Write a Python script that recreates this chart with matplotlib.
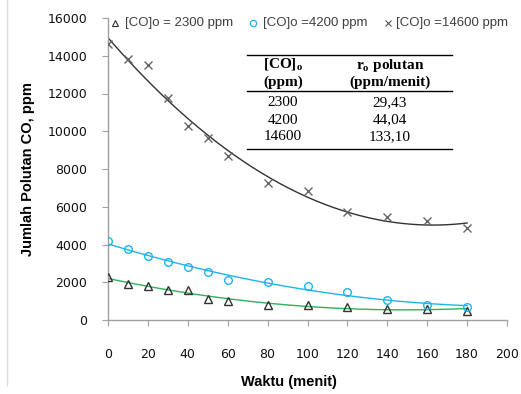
import numpy as np
import matplotlib
matplotlib.use("Agg")
import matplotlib.pyplot as plt
from matplotlib.lines import Line2D

# --- data ---
waktu = [0, 10, 20, 30, 40, 50, 60, 80, 100, 120, 140, 160, 180]
co_2300 = [2300, 1900, 1800, 1600, 1600, 1100, 1000, 800, 800, 700, 600, 600, 500]
co_4200 = [4200, 3750, 3400, 3050, 2800, 2550, 2100, 2000, 1800, 1500, 1050, 800, 700]
co_14600 = [14600, 13850, 13500, 11750, 10300, 9650, 8700, 7250, 6850, 5700, 5450, 5250, 4850]

legend_labels = ["[CO]o = 2300 ppm", "[CO]o =4200 ppm", "[CO]o =14600 ppm"]
tbl_co = ["2300", "4200", "14600"]
tbl_rate = ["29,43", "44,04", "133,10"]

BLUE = "#1FB4EC"
GREEN = "#2DB35A"
AXGRAY = "#A0A0A0"

W, H = 521.0, 394.0
fx = lambda x: x / W
fy = lambda y: 1 - y / H

fig = plt.figure(figsize=(5.21, 3.94), dpi=100)
fig.set_facecolor("white")
# plot area: x 0 -> px 108, x 200 -> px 507; y 0 -> px 320, y 16000 -> px 18
ax = fig.add_axes([fx(108), fy(320), (507 - 108) / W, (320 - 18) / H])

t = np.array(waktu, dtype=float)
tt = np.linspace(0, 180, 200)
series = [
    (co_2300, "^", GREEN, "#333333"),
    (co_4200, "o", BLUE, BLUE),
    (co_14600, "x", "#333333", "#666666"),
]
for ys, mk, lc, mc in series:
    ys = np.array(ys, dtype=float)
    coef = np.polyfit(t, ys, 2)
    ax.plot(tt, np.polyval(coef, tt), color=lc, lw=1.0, zorder=2)
    if mk == "x":
        ax.plot(t, ys, ls="none", marker="x", ms=6, mew=1.0, color=mc, zorder=3)
    else:
        ax.plot(t, ys, ls="none", marker=mk, ms=5.5, mfc="none", mec=mc,
                mew=1.0, zorder=3)

ax.set_xlim(0, 200)
ax.set_ylim(0, 16000)
ax.set_xticks(range(0, 201, 20))
ax.set_yticks(range(0, 16001, 2000))
for s in ["top", "right"]:
    ax.spines[s].set_visible(False)
for s in ["left", "bottom"]:
    ax.spines[s].set_color(AXGRAY)
    ax.spines[s].set_linewidth(1.0)
ax.tick_params(axis="both", color=AXGRAY, length=4, labelsize=9,
               direction="out", labelcolor="#111111")
ax.tick_params(axis="x", pad=16)
ax.tick_params(axis="y", pad=11)

ax.set_xlabel("Waktu (menit)", fontsize=10.5, fontweight="bold",
              family="Liberation Sans")
ax.xaxis.set_label_coords((289 - 108) / (507 - 108), -(382 - 320) / (320 - 18))
ax.set_ylabel("Jumlah Polutan CO, ppm", fontsize=10.5, fontweight="bold",
              family="Liberation Sans")
ax.yaxis.set_label_coords(-(108 - 28) / (507 - 108), 0.5)
ax.yaxis.label.set_va("center")
ax.xaxis.label.set_va("center")

# legend along the top, placed as in the reference
leg_y = fy(23)
leg_items = [
    (115, 125, dict(marker="^", ms=4.5, mfc="none", mec="#333333", mew=0.8)),
    (253, 263, dict(marker="o", ms=4.5, mfc="none", mec=BLUE, mew=0.9)),
    (388, 396, dict(marker="x", ms=5, color="#555555", mew=0.8)),
]
for (mx, tx, style), lab in zip(leg_items, legend_labels):
    fig.add_artist(Line2D([fx(mx)], [leg_y], ls="none", **style))
    fig.text(fx(tx), leg_y, lab, ha="left", va="center", fontsize=9.5,
             color="#404040", family="Liberation Sans")

# inset table
serif = "Liberation Serif"
for yy in (55, 91, 149):
    fig.add_artist(Line2D([fx(247), fx(452)], [fy(yy), fy(yy)], color="black", lw=1.0))
c1, c2 = fx(283), fx(390)
fs = 11
fig.text(c1, fy(65), r"[CO]$_\mathregular{o}$", ha="center", va="center",
         family=serif, fontsize=fs, fontweight="bold")
fig.text(c1, fy(82), "(ppm)", ha="center", va="center",
         family=serif, fontsize=fs, fontweight="bold")
fig.text(c2, fy(65), r"r$_\mathregular{o}$ polutan", ha="center", va="center",
         family=serif, fontsize=fs, fontweight="bold")
fig.text(c2, fy(82), "(ppm/menit)", ha="center", va="center",
         family=serif, fontsize=fs, fontweight="bold")
for i, (a, b) in enumerate(zip(tbl_co, tbl_rate)):
    y = fy(103 + i * 17)
    fig.text(c1, y, a, ha="center", va="center", family=serif, fontsize=fs)
    fig.text(c2, y, b, ha="center", va="center", family=serif, fontsize=fs)

# faint frame line at left edge
fig.add_artist(Line2D([fx(7), fx(7)], [fy(0), fy(385)], color="#DDDDDD", lw=1.0))

fig.savefig("out.png", dpi=100, facecolor="white")
